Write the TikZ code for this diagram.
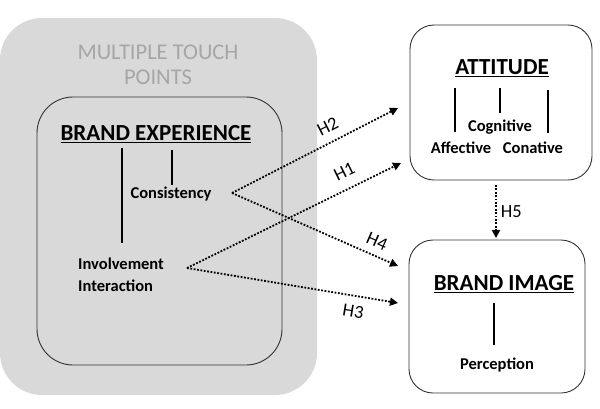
\documentclass[tikz,border=0pt]{standalone}
\usepackage{fontspec}
\setmainfont{Carlito}
\usetikzlibrary{arrows.meta}
\definecolor{panelgray}{HTML}{D9D9D9}
\definecolor{titlegray}{HTML}{A6A6A6}
\begin{document}
\begin{tikzpicture}[x=1pt,y=-1pt,
  box/.style={draw=black!80, line width=0.9pt, rounded corners=24pt},
  lbl/.style={font=\fontsize{16.5}{22}\selectfont\bfseries, inner sep=1pt},
  head/.style={font=\fontsize{23}{26}\selectfont\bfseries, inner sep=1pt},
  stem/.style={line width=1.8pt},
  hyp/.style={line width=1.8pt, dash pattern=on 1.8pt off 1.6pt, -{Triangle[length=8pt,width=8pt]}},
  hlab/.style={font=\fontsize{18.5}{20}\selectfont, inner sep=1pt}]
\useasboundingbox (0,0) rectangle (600,408);
% outer touch-point panel
\fill[panelgray, rounded corners=42pt] (0,18) rectangle (317,395);
\node[font=\fontsize{22.5}{25}\selectfont, text=titlegray, align=center] (mtp) at (158,65) {MULTIPLE TOUCH\\POINTS};
% brand experience box
\draw[box, rounded corners=36pt] (37,97) rectangle (282,365);
\node[head] (be) at (156,134) {\underline{BRAND EXPERIENCE}};
\node[lbl] (cons) at (171,194) {Consistency};
\node[lbl, align=left, anchor=west] (inv) at (77,275) {Involvement\\Interaction};
\coordinate (consR) at (232,193);
\coordinate (invR) at (187,268);
\draw[stem] (122,148) -- (122,243);
\draw[stem] (172,150) -- (172,185);
% attitude box
\draw[box] (410,25) rectangle (592,180);
\node[head] (att) at (502,68) {\underline{ATTITUDE}};
\node[lbl] (cog) at (500,127) {Cognitive};
\node[lbl] (aff) at (461,148) {Affective};
\node[lbl] (con) at (533,148) {Conative};
\draw[stem] (455,88) -- (455,132);
\draw[stem] (500,88) -- (500,113);
\draw[stem] (548,90) -- (548,133);
\coordinate (attTop) at (398,108);
\coordinate (attLow) at (401,163);
\coordinate (attB) at (496,185);
% brand image box
\draw[box] (409,240) rectangle (585,393);
\node[head] (bi) at (504,284) {\underline{BRAND IMAGE}};
\node[lbl] (per) at (497,365) {Perception};
\draw[stem] (494,303) -- (494,345);
\coordinate (biT) at (496,238);
\coordinate (biUp) at (398,266);
\coordinate (biLow) at (398,303);
% hypotheses
\draw[hyp] (consR) -- node[hlab, pos=0.62, sloped, above=8pt] {H2} (attTop);
\draw[hyp] (invR) -- node[hlab, pos=0.77, sloped, above=9pt] {H1} (attLow);
\draw[hyp] (consR) -- node[hlab, pos=0.84, sloped, above=6pt] {H4} (biUp);
\draw[hyp] (invR) -- node[hlab, pos=0.8, sloped, below=8pt] {H3} (biLow);
\draw[hyp] (attB) -- node[hlab, right=3pt] {H5} (biT);
\end{tikzpicture}
\end{document}
